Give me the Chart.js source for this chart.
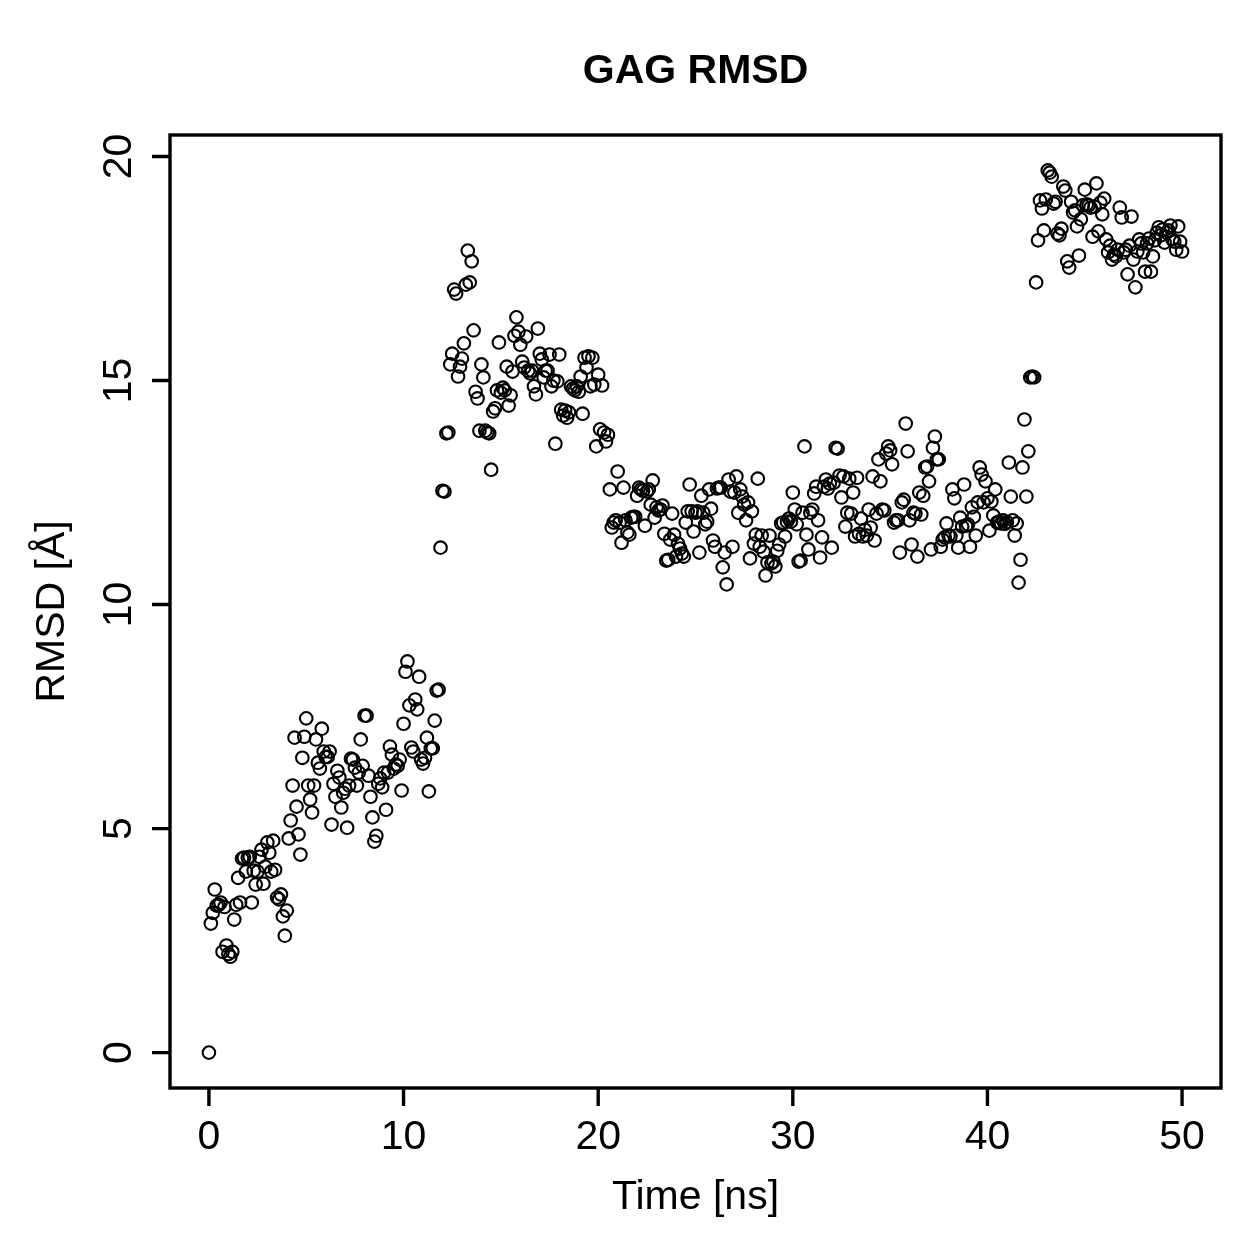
<!DOCTYPE html>
<html>
<head>
<meta charset="utf-8">
<title>GAG RMSD</title>
<script src="https://cdn.jsdelivr.net/npm/chart.js@4/dist/chart.umd.min.js"></script>
<style>
  html, body { margin: 0; padding: 0; background: #fff; }
  #chart { display: block; }
</style>
</head>
<body>
<canvas id="chart" width="1259" height="1259"></canvas>
<script>
// sampling of the trajectory (ns)
const startTime = 0;
const timeStep = 0.1;

// RMSD values (Angstrom), one per frame
const rmsd = [
    0,
    2.88, 3.12, 3.64, 3.28, 3.30, 3.35, 2.25, 3.25, 2.39, 2.20,
    2.14, 2.25, 2.97, 3.30, 3.90, 3.35, 4.33, 4.35, 4.04, 4.35,
    4.37, 3.35, 4.06, 3.75, 4.04, 4.37, 4.53, 3.77, 4.15, 4.69,
    4.46, 4.04, 4.73, 4.08, 3.46, 3.42, 3.53, 3.04, 2.61, 3.17,
    4.78, 5.18, 5.96, 7.03, 5.49, 4.87, 4.42, 6.58, 7.05, 7.46,
    5.96, 5.65, 5.36, 5.96, 6.99, 6.47, 6.34, 7.23, 6.72, 6.60,
    6.60, 6.72, 5.09, 6.00, 5.71, 6.29, 6.14, 5.47, 5.80, 5.89,
    5.02, 5.96, 6.56, 6.54, 6.36, 5.96, 6.25, 6.99, 6.40, 7.52,
    7.52, 6.18, 5.71, 5.25, 4.71, 4.84, 6.00, 6.12, 5.92, 6.25,
    5.42, 6.25, 6.83, 6.65, 6.34, 6.43, 6.40, 6.54, 5.85, 7.34,
    8.50, 8.73, 7.75, 6.81, 6.72, 7.88, 7.66, 8.39, 6.54, 6.45,
    6.58, 7.03, 5.83, 6.79, 6.79, 7.41, 8.08, 8.10, 11.27, 12.54,
    12.52, 13.82, 13.84, 15.36, 15.60, 17.03, 16.94, 15.09, 15.31, 15.49,
    15.83, 17.14, 17.90, 17.19, 17.66, 16.12, 14.75, 14.60, 13.88, 15.36,
    15.07, 13.88, 13.84, 13.82, 13.01, 14.31, 14.38, 14.78, 15.85, 14.73,
    14.84, 14.78, 15.31, 14.44, 14.67, 15.20, 16.00, 16.41, 16.09, 15.80,
    15.42, 15.29, 15.98, 15.22, 15.16, 15.22, 14.87, 14.69, 16.16, 15.60,
    15.47, 15.07, 15.22, 15.22, 15.58, 14.87, 15.00, 13.59, 14.98, 15.58,
    14.35, 14.22, 14.33, 14.17, 14.29, 14.87, 14.82, 14.78, 14.87, 14.75,
    15.09, 14.26, 15.51, 15.29, 15.54, 14.87, 15.51, 14.91, 13.53, 15.13,
    13.91, 14.89, 13.84, 13.64, 13.79, 12.57, 11.72, 11.83, 11.88, 12.97,
    11.83, 11.38, 12.61, 11.88, 11.61, 11.56, 11.94, 11.96, 11.96, 12.43,
    12.61, 12.57, 12.54, 11.76, 12.52, 12.57, 12.23, 12.77, 11.94, 12.17,
    12.10, 12.12, 12.21, 11.58, 10.98, 11.00, 11.45, 12.03, 11.56, 11.07,
    11.36, 11.25, 11.14, 11.07, 11.83, 12.08, 12.68, 12.08, 11.63, 12.05,
    12.08, 11.16, 12.43, 12.05, 11.79, 11.85, 12.57, 12.14, 11.43, 11.29,
    12.59, 12.61, 12.61, 10.83, 11.16, 10.45, 12.79, 12.52, 11.29, 12.50,
    12.86, 12.05, 12.57, 12.41, 12.23, 11.88, 12.28, 11.03, 12.08, 11.36,
    11.56, 12.81, 11.29, 11.54, 11.18, 10.65, 10.94, 11.54, 10.92, 10.96,
    10.85, 11.20, 11.34, 11.81, 11.83, 11.52, 11.85, 11.92, 11.85, 12.50,
    12.12, 11.79, 10.96, 10.98, 12.05, 13.53, 11.56, 11.23, 12.05, 12.12,
    12.48, 12.63, 11.88, 11.05, 11.50, 12.63, 12.79, 12.59, 12.70, 11.27,
    12.72, 13.50, 13.48, 12.88, 12.39, 12.86, 11.74, 12.05, 12.81, 12.03,
    12.50, 11.52, 12.83, 11.58, 11.92, 11.52, 11.67, 11.54, 12.12, 11.72,
    12.86, 11.43, 12.03, 13.24, 12.75, 12.12, 12.10, 13.37, 13.53, 13.44,
    13.13, 11.83, 11.88, 11.88, 11.16, 12.28, 12.34, 14.04, 13.42, 11.88,
    11.34, 12.05, 12.03, 11.07, 12.50, 12.01, 12.43, 13.06, 13.08, 12.75,
    11.23, 13.50, 13.75, 13.24, 13.24, 11.29, 11.45, 11.50, 11.81, 11.54,
    11.52, 12.57, 12.37, 11.54, 11.27, 11.94, 11.74, 12.68, 11.76, 11.79,
    11.29, 12.17, 11.96, 11.54, 12.28, 13.06, 12.90, 12.28, 12.75, 12.37,
    11.65, 12.30, 11.99, 12.57, 11.83, 11.85, 11.81, 11.88, 11.80, 11.84,
    13.17, 12.41, 11.88, 11.54, 11.81, 10.49, 11.00, 13.06, 14.13, 12.41,
    13.42, 15.07, 15.09, 15.07, 17.19, 18.13, 19.02, 18.84, 18.35, 19.04,
    19.69, 19.64, 19.55, 18.95, 18.99, 18.28, 18.24, 18.39, 19.33, 19.24,
    17.66, 17.52, 18.99, 18.75, 18.80, 18.44, 17.79, 18.60, 18.91, 19.26,
    18.93, 18.91, 18.86, 18.21, 18.88, 19.40, 18.33, 18.97, 18.71, 19.06,
    18.15, 17.86, 18.01, 17.70, 17.81, 17.77, 17.92, 18.86, 18.64, 17.86,
    17.92, 17.37, 18.01, 18.66, 17.70, 17.08, 17.88, 18.15, 18.06, 17.86,
    17.43, 18.06, 18.17, 17.43, 17.77, 18.13, 18.30, 18.42, 18.24, 18.37,
    18.08, 18.30, 18.35, 18.46, 18.15, 18.10, 17.92, 18.44, 18.10, 17.88
];

// axis ticks
const xTicks = [0, 10, 20, 30, 40, 50];
const yTicks = [0, 5, 10, 15, 20];

const titleText = 'GAG RMSD';
const xTitle = 'Time [ns]';
const yTitle = 'RMSD [Å]';

const fontFamily = '"Liberation Sans", Arial, Helvetica, sans-serif';

const points = rmsd.map((v, i) => ({ x: startTime + i * timeStep, y: v }));

// draws the R-style frame, ticks and labels using the chart's own scales
const baseGraphics = {
    id: 'baseGraphics',
    beforeDraw(chart) {
        const c = chart.ctx;
        c.save();
        c.fillStyle = '#ffffff';
        c.fillRect(0, 0, chart.width, chart.height);
        c.restore();
    },
    afterDraw(chart) {
        const c = chart.ctx;
        const area = chart.chartArea;
        const xs = chart.scales.x;
        const ys = chart.scales.y;

        c.save();
        c.strokeStyle = '#000';
        c.fillStyle = '#000';
        c.lineWidth = 3.4;
        c.lineCap = 'butt';

        // box
        c.strokeRect(area.left, area.top, area.right - area.left, area.bottom - area.top);

        // ticks
        c.beginPath();
        xTicks.forEach(t => {
            const px = xs.getPixelForValue(t);
            c.moveTo(px, area.bottom);
            c.lineTo(px, area.bottom + 18);
        });
        yTicks.forEach(t => {
            const py = ys.getPixelForValue(t);
            c.moveTo(area.left, py);
            c.lineTo(area.left - 18, py);
        });
        c.stroke();

        c.font = '41px ' + fontFamily;
        c.textAlign = 'center';
        c.textBaseline = 'alphabetic';
        xTicks.forEach(t => {
            c.fillText(String(t), xs.getPixelForValue(t), 1149);
        });

        yTicks.forEach(t => {
            c.save();
            c.translate(131, ys.getPixelForValue(t));
            c.rotate(-Math.PI / 2);
            c.fillText(String(t), 0, 0);
            c.restore();
        });

        // axis titles
        const midX = (area.left + area.right) / 2;
        const midY = (area.top + area.bottom) / 2;
        c.fillText(xTitle, midX, 1209);
        c.save();
        c.translate(64, midY);
        c.rotate(-Math.PI / 2);
        c.fillText(yTitle, 0, 0);
        c.restore();

        // main title
        c.font = 'bold 41px ' + fontFamily;
        c.fillText(titleText, midX, 83);

        c.restore();
    }
};

const ctx = document.getElementById('chart').getContext('2d');
new Chart(ctx, {
    type: 'scatter',
    data: {
        datasets: [{
            label: 'RMSD',
            data: points,
            pointStyle: 'circle',
            pointRadius: 6.3,
            pointBorderWidth: 2.1,
            pointBorderColor: '#000',
            pointBackgroundColor: 'rgba(0,0,0,0)',
            showLine: false
        }]
    },
    options: {
        responsive: false,
        animation: false,
        devicePixelRatio: 1,
        layout: {
            padding: { left: 170, top: 135, right: 38, bottom: 171 }
        },
        plugins: {
            legend: { display: false },
            tooltip: { enabled: false },
            title: { display: false }
        },
        scales: {
            x: { type: 'linear', min: -2, max: 52, display: false },
            y: { type: 'linear', min: -0.79, max: 20.48, display: false }
        }
    },
    plugins: [baseGraphics]
});
</script>
</body>
</html>
